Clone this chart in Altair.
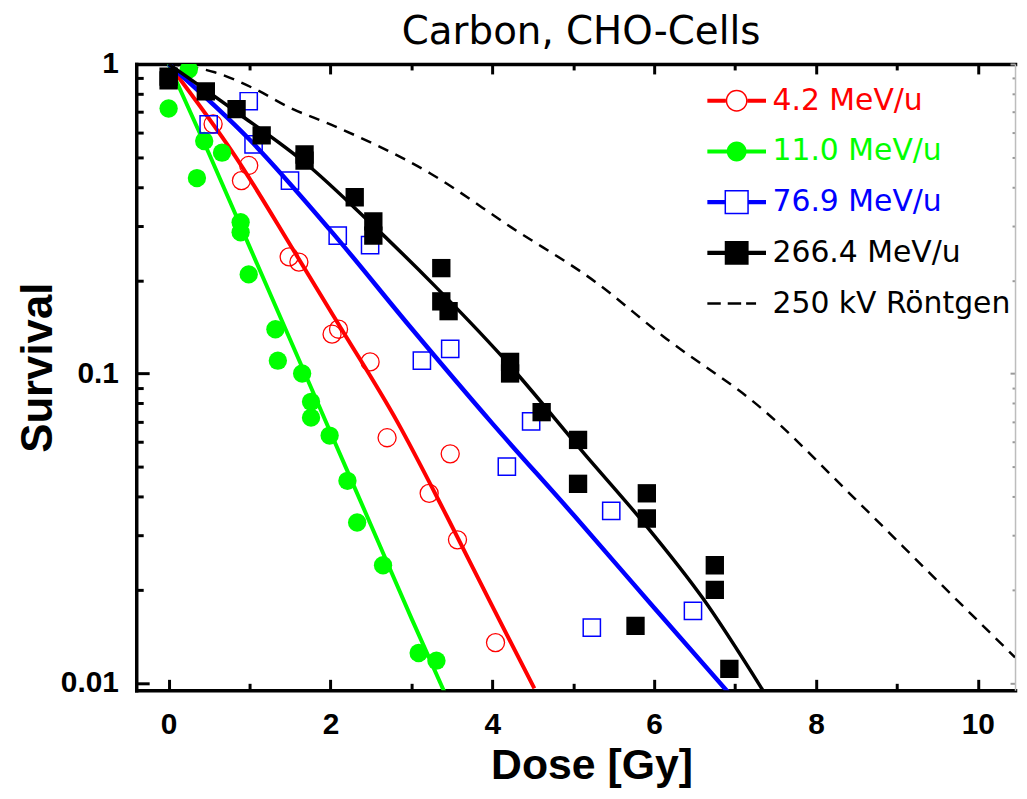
import altair as alt
import pandas as pd

# ---------------- data ----------------
SERIES = ["4.2 MeV/u", "11.0 MeV/u", "76.9 MeV/u", "266.4 MeV/u", "250 kV Röntgen"]
COLORS = ["#ff0000", "#00ff00", "#0000ff", "#000000", "#000000"]
TITLE = "Carbon, CHO-Cells"
X_TITLE = "Dose [Gy]"
Y_TITLE = "Survival"

red_x = [0.55, 0.99, 0.90, 1.49, 1.61, 2.02, 2.10, 2.49, 2.70, 3.22, 3.48, 3.57, 4.04]
red_y = [0.64, 0.47, 0.42, 0.238, 0.229, 0.134, 0.139, 0.109, 0.062, 0.041, 0.055, 0.029, 0.0135]

green_x = [0.25, 0.0, 0.44, 0.66, 0.35, 0.89, 0.89, 0.99, 1.32, 1.35, 1.65, 1.76, 1.76,
           1.99, 2.21, 2.33, 2.65, 3.09, 3.31]
green_y = [0.96, 0.718, 0.564, 0.517, 0.428, 0.308, 0.286, 0.209, 0.139, 0.110, 0.100, 0.081,
           0.072, 0.063, 0.045, 0.033, 0.024, 0.0125, 0.0118]

blue_x = [0.99, 0.495, 1.05, 1.50, 2.09, 2.49, 3.13, 3.48, 4.48, 4.18, 5.47, 5.23, 6.48]
blue_y = [0.758, 0.638, 0.55, 0.42, 0.279, 0.26, 0.11, 0.12, 0.070, 0.050, 0.036, 0.0151, 0.0171]

black_x = [0.0, 0.0, 0.46, 0.84, 1.15, 1.68, 1.68, 2.30, 2.53, 2.53, 3.37, 3.37, 3.46, 4.22,
           4.22, 4.61, 5.06, 5.06, 5.91, 5.91, 5.77, 6.75, 6.75, 6.93]
black_y = [0.91, 0.885, 0.816, 0.715, 0.588, 0.51, 0.487, 0.371, 0.31, 0.279, 0.219, 0.171,
           0.159, 0.109, 0.100, 0.075, 0.061, 0.044, 0.041, 0.034, 0.0153, 0.024, 0.020, 0.0111]

# fitted curves
red_cx = [0.0, 0.82, 1.56, 2.13, 2.83, 3.44, 4.0, 4.52]
red_cy = [1.0, 0.505, 0.246, 0.140, 0.0695, 0.0345, 0.0177, 0.0096]
green_cx = [0.0, 0.5, 1.0, 1.5, 2.0, 2.5, 3.0, 3.42]
green_cy = [1.0, 0.513, 0.257, 0.129, 0.0646, 0.0324, 0.0162, 0.0092]
blue_cx = [0.0, 1.0, 2.0, 3.0, 4.0, 5.0, 6.0, 7.0]
blue_cy = [1.0, 0.57, 0.29, 0.14, 0.069, 0.035, 0.0175, 0.0088]
black_cx = [0.0, 0.82, 1.73, 2.42, 3.28, 4.10, 5.16, 5.86, 6.6, 7.34]
black_cy = [1.0, 0.705, 0.469, 0.320, 0.193, 0.115, 0.0542, 0.0332, 0.0188, 0.0095]
xray_cx = [0.0, 0.57, 1.06, 1.51, 2.0, 3.24, 4.24, 5.27, 6.11, 7.34, 8.48, 9.5, 10.46]
xray_cy = [1.0, 0.94, 0.832, 0.72, 0.638, 0.442, 0.296, 0.198, 0.132, 0.0766, 0.0394, 0.0214, 0.0121]

x_label_values = [0, 2, 4, 6, 8, 10]
x_tick_values = [0, 1, 2, 3, 4, 5, 6, 7, 8, 9, 10]
y_label_values = [0.01, 0.1, 1]
y_tick_values = [0.01, 0.02, 0.03, 0.04, 0.05, 0.06, 0.07, 0.08, 0.09,
                 0.1, 0.2, 0.3, 0.4, 0.5, 0.6, 0.7, 0.8, 0.9, 1.0]

# ---------------- tables ----------------
pts_rows = []
for s, xs_, ys_ in [(SERIES[0], red_x, red_y), (SERIES[1], green_x, green_y),
                    (SERIES[2], blue_x, blue_y), (SERIES[3], black_x, black_y)]:
    for a, b in zip(xs_, ys_):
        pts_rows.append({"series": s, "dose": a, "surv": b})
pts = pd.DataFrame(pts_rows)

cur_rows = []
for s, xs_, ys_ in [(SERIES[0], red_cx, red_cy), (SERIES[1], green_cx, green_cy),
                    (SERIES[2], blue_cx, blue_cy), (SERIES[3], black_cx, black_cy),
                    (SERIES[4], xray_cx, xray_cy)]:
    for i, (a, b) in enumerate(zip(xs_, ys_)):
        cur_rows.append({"series": s, "dose": a, "surv": b, "order": i})
curves = pd.DataFrame(cur_rows)

# ---------------- geometry / styles ----------------
W, H = 884, 630
BOLD = "Liberation Sans"
SANS = "DejaVu Sans"

xscale = alt.Scale(domain=[-0.4, 10.46], nice=False, zero=False)
yscale = alt.Scale(type="log", domain=[0.00947, 1.0], nice=False)

x_major = "datum.value % 2 === 0"
y_major = "abs(log(datum.value)/LN10 - round(log(datum.value)/LN10)) < 0.000001"

ax_x_labels = alt.Axis(orient="bottom", values=x_label_values, format="d", ticks=False, tickSize=0,
                       domain=True, domainColor="black", domainWidth=3.5, domainCap="square",
                       grid=False, labelFont=BOLD, labelFontSize=30, labelFontWeight="bold",
                       labelColor="black", labelPadding=19, labelOverlap=False, labelFlush=False,
                       title=X_TITLE, titleFont=BOLD, titleFontSize=43, titleFontWeight="bold",
                       titleColor="black", titleX=458, titleY=88.5, titleAlign="center",
                       titleBaseline="alphabetic")
ax_x_bottom_ticks = alt.Axis(orient="top", offset=-H, values=x_tick_values, labels=False,
                             domain=False, grid=False, tickColor="black", tickWidth=3,
                             tickSize={"condition": {"test": x_major, "value": 11}, "value": 7},
                             title=None)
ax_x_top_ticks = alt.Axis(orient="bottom", offset=-H, values=x_tick_values, labels=False,
                          domain=True, domainColor="black", domainWidth=3.5, domainCap="square",
                          grid=False, tickColor="black", tickWidth=3,
                          tickSize={"condition": {"test": x_major, "value": 10}, "value": 6},
                          title=TITLE, titleFont=SANS, titleFontSize=39, titleFontWeight="normal",
                          titleColor="black", titleX=447, titleY=-20.5, titleAlign="center",
                          titleBaseline="alphabetic")
ax_y_labels = alt.Axis(orient="left", values=y_label_values, format="~g", ticks=False, tickSize=0,
                       domain=True, domainColor="black", domainWidth=3.5, domainCap="square",
                       grid=False, labelFont=BOLD, labelFontSize=30, labelFontWeight="bold",
                       labelColor="black", labelPadding=18, labelOverlap=False, labelFlush=False,
                       title=Y_TITLE, titleFont=BOLD, titleFontSize=44, titleFontWeight="bold",
                       titleColor="black", titleX=-85, titleY=305, titleAngle=270,
                       titleAlign="center", titleBaseline="alphabetic")
ax_y_left_ticks = alt.Axis(orient="right", offset=-W, values=y_tick_values, labels=False,
                           domain=False, grid=False, tickColor="black", tickWidth=3,
                           tickSize={"condition": {"test": y_major, "value": 13}, "value": 7},
                           title=None)
ax_y_right_ticks = alt.Axis(orient="left", offset=-W, values=y_tick_values, labels=False,
                            domain=True, domainColor="#bdbdbd", domainWidth=1.5, grid=False,
                            tickColor="#9a9a9a", tickWidth=2,
                            tickSize={"condition": {"test": y_major, "value": 5}, "value": 3},
                            title=None)

# legend symbols: line + marker, drawn as filled shapes (unit = 10 px)
L = "M-2.95,-0.2L-1.1,-0.2L-1.1,0.2L-2.95,0.2Z M1.1,-0.2L2.95,-0.2L2.95,0.2L1.1,0.2Z "
P_OPEN_CIRCLE = (L + "M1.1,0A1.1,1.1,0,1,1,-1.1,0A1.1,1.1,0,1,1,1.1,0Z "
                 "M0.95,0A0.95,0.95,0,1,0,-0.95,0A0.95,0.95,0,1,0,0.95,0Z")
P_FILLED_CIRCLE = ("M-2.95,-0.2L2.95,-0.2L2.95,0.2L-2.95,0.2Z "
                   "M1.0,0A1.0,1.0,0,1,1,-1.0,0A1.0,1.0,0,1,1,1.0,0Z")
P_OPEN_SQUARE = ("M-2.95,-0.22L-1.22,-0.22L-1.22,0.22L-2.95,0.22Z M1.22,-0.22L2.95,-0.22L2.95,0.22L1.22,0.22Z "
                 "M-1.22,-1.22L1.22,-1.22L1.22,1.22L-1.22,1.22Z "
                 "M-1.07,-1.07L-1.07,1.07L1.07,1.07L1.07,-1.07Z")
P_FILLED_SQUARE = ("M-2.95,-0.22L2.95,-0.22L2.95,0.22L-2.95,0.22Z "
                   "M-1.2,-1.2L1.2,-1.2L1.2,1.2L-1.2,1.2Z")
P_DASH = ("M-2.95,-0.13L-1.6,-0.13L-1.6,0.13L-2.95,0.13Z "
          "M-0.9,-0.13L0.45,-0.13L0.45,0.13L-0.9,0.13Z "
          "M0.95,-0.13L1.95,-0.13L1.95,0.13L0.95,0.13Z")
PATHS = [P_OPEN_CIRCLE, P_FILLED_CIRCLE, P_OPEN_SQUARE, P_FILLED_SQUARE, P_DASH]

label_color_expr = ("datum.label === '4.2 MeV/u' ? '#ff0000' : datum.label === '11.0 MeV/u' ? '#00ff00' : "
                    "datum.label === '76.9 MeV/u' ? '#0000ff' : '#000000'")

legend = alt.Legend(title=None, orient="none", legendX=589, legendY=22, padding=0,
                    symbolSize=400, symbolStrokeWidth=0, symbolOpacity=1,
                    labelFont=SANS, labelFontSize=30, labelColor={"expr": label_color_expr},
                    labelOffset=21, rowPadding=21, labelLimit=400)


def X(axis=None):
    return alt.X("dose:Q", scale=xscale, axis=axis)


def Y(axis=None):
    return alt.Y("surv:Q", scale=yscale, axis=axis)


# invisible carrier for the legend (also carries the labelled axes)
carrier = alt.Chart(curves).mark_point(filled=True, opacity=0, size=1).encode(
    x=X(ax_x_labels), y=Y(ax_y_labels),
    shape=alt.Shape("series:N", scale=alt.Scale(domain=SERIES, range=PATHS), legend=legend),
    fill=alt.Fill("series:N", scale=alt.Scale(domain=SERIES, range=COLORS), legend=legend),
)


def line_layer(series, color, width, dash=None, xa=None, ya=None):
    kw = dict(color=color, strokeWidth=width, clip=True, strokeCap="butt", interpolate="monotone")
    if dash:
        kw["strokeDash"] = dash
    return alt.Chart(curves).transform_filter(alt.datum.series == series).mark_line(**kw).encode(
        x=X(xa), y=Y(ya), order="order:Q")


def pts_layer(series, shape, filled, color, size, sw, xa=None, ya=None):
    return alt.Chart(pts).transform_filter(alt.datum.series == series).mark_point(
        shape=shape, filled=filled, color=color, size=size, strokeWidth=sw, opacity=1, clip=True
    ).encode(x=X(xa), y=Y(ya))


layers = [
    carrier,
    line_layer(SERIES[4], "#000000", 2.5, dash=[11, 8], xa=ax_x_bottom_ticks, ya=ax_y_left_ticks),
    pts_layer(SERIES[0], "circle", False, "#ff0000", 330, 1.3, xa=ax_x_top_ticks, ya=ax_y_right_ticks),
    line_layer(SERIES[0], "#ff0000", 4),
    pts_layer(SERIES[1], "circle", True, "#00ff00", 340, 0),
    line_layer(SERIES[1], "#00ff00", 4),
    pts_layer(SERIES[2], "square", False, "#0000ff", 300, 1.5),
    line_layer(SERIES[2], "#0000ff", 4.5),
    pts_layer(SERIES[3], "square", True, "#000000", 340, 0),
    line_layer(SERIES[3], "#000000", 3.5),
]

chart = alt.layer(*layers).resolve_axis(x="independent", y="independent").properties(
    width=W, height=H,
    autosize=alt.AutoSizeParams(type="none"),
    padding={"left": 129, "top": 54, "right": 4, "bottom": 99},
).configure_view(stroke=None).configure(background="white")

chart.save("out.html", embed_options={"renderer": "svg", "actions": False})
